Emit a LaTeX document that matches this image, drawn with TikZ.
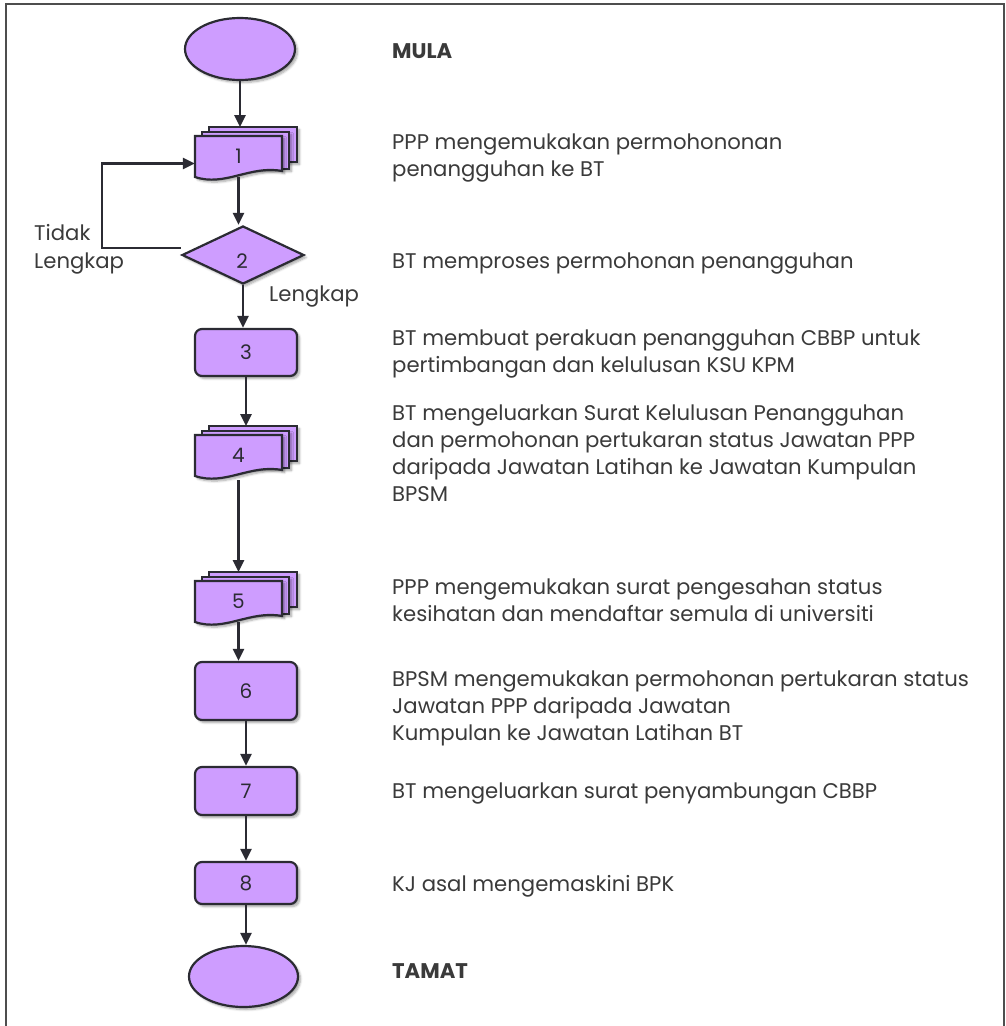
\documentclass[tikz,border=0pt]{standalone}
\usepackage{fontspec}
\setmainfont{Poppins}
\usetikzlibrary{shapes.geometric,arrows.meta,shadows.blur,calc}
\definecolor{lav}{HTML}{CE9DFF}
\definecolor{ink}{HTML}{2B2B33}
\definecolor{framegray}{HTML}{4E4E4E}
\definecolor{txt}{HTML}{3A3A3A}

% stack of three document sheets: name, centre of front sheet, label
\newcommand\docstack[3]{%
  \path (#2) coordinate (#1-c);
  \draw[sheet] ($(#1-c)+(-29.5,-29.5)$) rectangle ($(#1-c)+(58.5,5.5)$);
  \draw[sheet] ($(#1-c)+(-36.5,-24.5)$) rectangle ($(#1-c)+(50.5,12.5)$);
  \draw[sheet] ($(#1-c)+(-43.5,-20.5)$) -- ($(#1-c)+(43.5,-20.5)$) -- ($(#1-c)+(43.5,14.5)$)
     .. controls ($(#1-c)+(11.5,8.5)$) and ($(#1-c)+(-13.5,30.5)$) .. ($(#1-c)+(-43.5,20.5)$) -- cycle;
  \node[docnode] (#1) at (#1-c) {#3};
  \path ($(#1-c)+(0,-29.5)$) coordinate (#1-t);
}

\begin{document}
\begin{tikzpicture}[x=1pt,y=-1pt,
  shp/.style={draw=ink, line width=2.2pt, fill=lav,
    blur shadow={shadow xshift=2.5pt, shadow yshift=-2.5pt, shadow blur steps=6, shadow opacity=35}},
  procbox/.style={shp, rectangle, rounded corners=7pt, minimum width=102pt, inner sep=0pt,
    font=\fontsize{20}{20}\selectfont, text=ink},
  term/.style={shp, ellipse, minimum width=110pt, minimum height=62pt, inner sep=0pt},
  decision/.style={shp, diamond, aspect=2.1, minimum width=122pt, minimum height=58pt, inner sep=0pt},
  docnode/.style={minimum width=87pt, minimum height=41pt, inner sep=0pt,
    font=\fontsize{20}{20}\selectfont, text=ink},
  sheet/.style={shp, line join=miter},
  conn/.style={draw=ink, line width=2.6pt},
  arr/.style={conn, -{Triangle[length=12pt,width=11pt]}},
  desc/.style={anchor=north west, inner sep=0pt, align=left, text=txt,
    font=\fontsize{21.2}{27}\selectfont},
  headline/.style={desc, font=\bfseries\fontsize{21.2}{27}\selectfont},
  side/.style={anchor=north west, inner sep=0pt, align=left, text=txt,
    font=\fontsize{21.2}{29}\selectfont},
]
\useasboundingbox (0,0) rectangle (1006,1026);

% open frame
\draw[framegray, line width=2.2pt] (6,1026) -- (6,4) -- (1004,4) -- (1004,1026);

% flow shapes
\node[term] (start) at (240,49) {};
\docstack{d1}{238.5,156.5}{1}
\node[decision] (d2) at (243,255) {};
\node[text=ink, font=\fontsize{20}{20}\selectfont] (d2lbl) at (242,261) {2};
\node[procbox, minimum height=47pt] (b3) at (246,352.5) {3};
\docstack{d4}{238.5,455.5}{4}
\docstack{d5}{238.5,601.5}{5}
\node[procbox, minimum height=58pt] (b6) at (246,691) {6};
\node[procbox, minimum height=48pt] (b7) at (246,791) {7};
\node[procbox, minimum height=42pt] (b8) at (246,883) {8};
\node[term, minimum width=109pt, minimum height=61pt] (end) at (243.5,976.5) {};

% connectors
\draw[arr] (start.south) -- (start.south |- d1-t);
\draw[arr] (d1.south) -- (d1.south |- d2.north);
\draw[arr] (d2.south) -- (d2.south |- b3.north);
\draw[arr] (b3.south) -- (b3.south |- d4-t);
\draw[arr] ([yshift=-4pt]d4.south) -- (d4.south |- d5-t);
\draw[arr] (d5.south) -- (d5.south |- b6.north);
\draw[arr] (b6.south) -- (b6.south |- b7.north);
\draw[arr] (b7.south) -- (b7.south |- b8.north);
\draw[arr] (b8.south) -- (b8.south |- end.north);
\draw[arr] ([yshift=7pt]d2.west) -- ++(-79,0) |- ([yshift=-7pt]d1.west);

% branch labels
\node[side] (no1) at (34,224) {Tidak};
\node[side] (no2) at (34,253) {Lengkap};
\node[side] (yes) at (269,286) {Lengkap};

% step descriptions
\node[headline] (t0) at (392,43) {MULA};
\node[desc] (t1) at (392,134) {PPP mengemukakan permohononan\\penangguhan ke BT};
\node[desc] (t2) at (392,253) {BT memproses permohonan penangguhan};
\node[desc] (t3) at (392,330) {BT membuat perakuan penangguhan CBBP untuk\\pertimbangan dan kelulusan KSU KPM};
\node[desc] (t4) at (392,405) {BT mengeluarkan Surat Kelulusan Penangguhan\\dan permohonan pertukaran status Jawatan PPP\\daripada Jawatan Latihan ke Jawatan Kumpulan\\BPSM};
\node[desc] (t5) at (392,579) {PPP mengemukakan surat pengesahan status\\kesihatan dan mendaftar semula di universiti};
\node[desc] (t6) at (392,671) {BPSM mengemukakan permohonan pertukaran status\\Jawatan PPP daripada Jawatan\\Kumpulan ke Jawatan Latihan BT};
\node[desc] (t7) at (392,783) {BT mengeluarkan surat penyambungan CBBP};
\node[desc] (t8) at (392,875) {KJ asal mengemaskini BPK};
\node[headline] (t9) at (392,963) {TAMAT};
\end{tikzpicture}
\end{document}
